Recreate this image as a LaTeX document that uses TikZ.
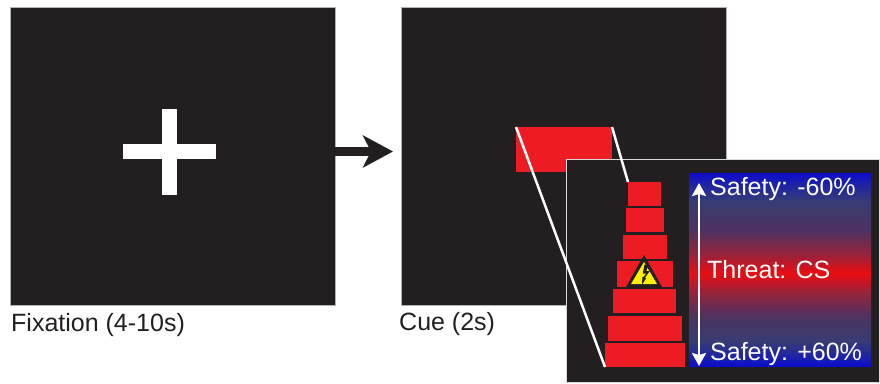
\documentclass[tikz,border=0pt]{standalone}
\usepackage{fontspec}
\setmainfont{Liberation Sans}
\usetikzlibrary{arrows.meta}

\definecolor{screen}{HTML}{231F20}
\definecolor{cuered}{HTML}{ED1C24}
\definecolor{signyellow}{HTML}{FFF200}
\definecolor{safeblue}{RGB}{12,12,205}
\definecolor{midblue}{RGB}{30,35,165}
\definecolor{slate}{RGB}{55,60,115}
\definecolor{dusk}{RGB}{78,50,95}
\definecolor{maroon}{RGB}{150,35,60}
\definecolor{threatred}{RGB}{235,12,18}

% blue (safe) at both ends, red (threat) in the middle;
% the shaded box spans 25bp..75bp of the shading
\pgfdeclareverticalshading{threatscale}{100bp}{%
  color(0bp)=(safeblue); color(25bp)=(safeblue); color(27.5bp)=(midblue);
  color(31.5bp)=(slate); color(38bp)=(dusk); color(44bp)=(maroon);
  color(49bp)=(threatred); color(54bp)=(maroon); color(60bp)=(dusk);
  color(67.5bp)=(slate); color(72bp)=(midblue); color(75bp)=(safeblue);
  color(100bp)=(safeblue)}

\tikzset{
  screenbox/.style={draw=black!30, line width=0.8pt, fill=screen,
    inner sep=0pt, outer sep=0pt, anchor=north west},
  plainbox/.style={inner sep=0pt, outer sep=0pt, anchor=north west},
  stackblock/.style={plainbox, fill=cuered},
  zoomline/.style={white, line width=2.5pt},
  scalelabel/.style={text=white, font=\fontsize{25}{30}\selectfont,
    inner sep=0pt, anchor=base west},
  panellabel/.style={text=screen, font=\fontsize{25}{30}\selectfont,
    inner sep=0pt, anchor=base west},
}

\begin{document}
\begin{tikzpicture}[x=1pt,y=-1pt]
\useasboundingbox (0,0) rectangle (880,383);

% the two screens
\node[screenbox, minimum width=325pt, minimum height=298pt] (fix) at (10,7) {};
\node[screenbox, minimum width=325pt, minimum height=298pt] (cue) at (401,7) {};

% fixation cross
\fill[white] (123,144) rectangle (216,159);
\fill[white] (162,109) rectangle (177,195);

% transition arrow
\draw[screen, line width=9pt, shorten >=8pt,
      -{Stealth[length=30pt,width=32pt,inset=8pt]}]
  ([yshift=4.5pt]fix.east) -- ([yshift=4.5pt]cue.west);

% cue stimulus
\node[stackblock, minimum width=96pt, minimum height=45pt] (cuebox) at (516,127) {};

% enlarged view
\node[screenbox, draw=white!85!black, line width=1pt,
      minimum width=313pt, minimum height=223pt] (inset) at (566,159) {};

% stacked blocks
\foreach \n/\x/\y/\w/\h in {1/628/182/33/24, 2/626/208/38/24, 3/623/235/44/24,
    4/617/261/56/26, 5/613/289/63/24, 6/608/316/74/25, 7/605/343/80/24}
  \node[stackblock, minimum width=\w pt, minimum height=\h pt] (b\n) at (\x,\y) {};

% zoom lines
\draw[zoomline] (cuebox.north west) -- (b7.south west);
\draw[zoomline] (cuebox.north east) -- (b1.north west);

% warning sign
\fill[screen] (644,255) -- (662,287) -- (626,287) -- cycle;
\fill[signyellow] (644,262) -- (657,284) -- (631,284) -- cycle;
\fill[screen] (644.5,264.5) -- (648.8,264.5) -- (646.2,271) -- (649.8,271)
  -- (644.8,278) -- (646.3,278) -- (642,284.5) -- (642.4,276.8) -- (643.6,276.8)
  -- (646.3,273.5) -- (642.8,273.5) -- cycle;

% threat/safety scale
\node[plainbox, shade, shading=threatscale,
      minimum width=182pt, minimum height=193pt] (scale) at (689,173) {};
\coordinate (scaletop) at (699,183);
\coordinate (scalebot) at (699,366);
\draw[white, line width=2.5pt,
      {Stealth[length=13pt,width=14pt,inset=2pt]}-{Stealth[length=13pt,width=14pt,inset=2pt]}]
  (scaletop) -- (scalebot);

\node[scalelabel] (safetop) at (710,195) {Safety: -60\%};
\node[scalelabel] (threat) at (707,278) {Threat: CS};
\node[scalelabel] (safebot) at (710,360) {Safety: +60\%};

% screen captions
\node[panellabel] (fixlabel) at (11,331) {Fixation (4-10s)};
\node[panellabel] (cuelabel) at (399,330) {Cue (2s)};
\end{tikzpicture}
\end{document}
